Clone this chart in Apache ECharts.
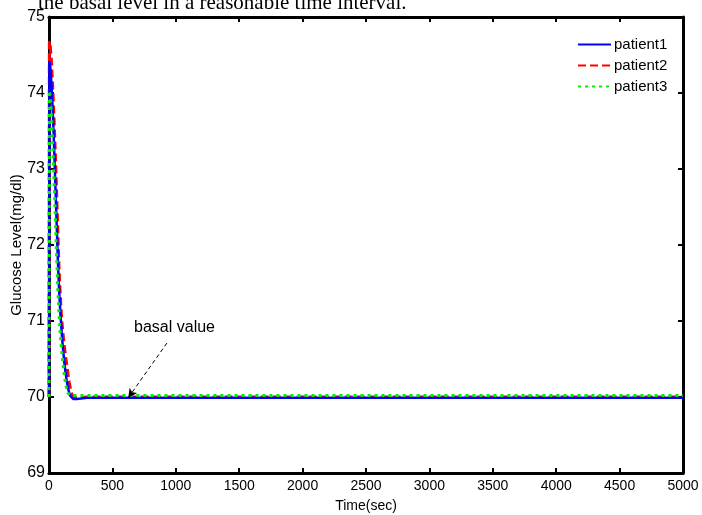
<!DOCTYPE html>
<html>
<head>
<meta charset="utf-8">
<script src="https://cdn.jsdelivr.net/npm/echarts@6/dist/echarts.min.js"></script>
<style>
html,body{margin:0;padding:0;background:#fff;}
#chart{width:702px;height:515px;}
</style>
</head>
<body>
<div id="chart"></div>
<script>
var timeSec = [0, 3, 10, 20, 30, 40, 50, 60, 70, 80, 90, 100, 110, 120, 130, 140, 150, 160, 170, 180, 190, 200, 220, 250, 300, 400, 500, 1000, 2000, 3000, 4000, 5000];
var patient1 = [70, 74.42, 74.35, 74.1, 73.75, 73.3, 72.8, 72.3, 71.8, 71.4, 71.1, 70.85, 70.64, 70.47, 70.33, 70.21, 70.12, 70.05, 70.01, 69.985, 69.975, 69.97, 69.975, 69.98, 69.99, 69.99, 69.99, 69.99, 69.99, 69.99, 69.99, 69.99];
var patient2 = [70, 74.68, 74.62, 74.4, 74.05, 73.65, 73.2, 72.7, 72.15, 71.65, 71.3, 71.02, 70.84, 70.68, 70.55, 70.42, 70.3, 70.19, 70.1, 70.04, 70.01, 69.995, 69.99, 69.99, 70.0, 70.0, 70.0, 70.0, 70.0, 70.0, 70.0, 70.0];
var patient3 = [70, 74.03, 73.95, 73.7, 73.3, 72.85, 72.35, 71.85, 71.4, 71.05, 70.8, 70.6, 70.45, 70.3, 70.18, 70.1, 70.05, 70.03, 70.02, 70.02, 70.02, 70.02, 70.02, 70.02, 70.02, 70.02, 70.02, 70.02, 70.02, 70.02, 70.02, 70.02];
var seriesNames = ['patient1', 'patient2', 'patient3'];
var yTicks = [69, 70, 71, 72, 73, 74, 75];
var xTicks = [0, 500, 1000, 1500, 2000, 2500, 3000, 3500, 4000, 4500, 5000];
var annotationText = 'basal value';
var arrowFrom = [930, 70.71];
var arrowTo = [625, 69.99];
var labelAt = [990, 70.91];

function pairs(t, v) { return t.map(function (x, i) { return [x, v[i]]; }); }

var chart = echarts.init(document.getElementById('chart'), null, {renderer: 'canvas'});
var axisFont = 'Liberation Sans';
var commonAxis = {
  axisLine: {show: true, onZero: false, lineStyle: {color: '#000', width: 3}},
  axisTick: {show: true, inside: true, length: 5, lineStyle: {color: '#000', width: 2}},
  splitLine: {show: false}
};
chart.setOption({
  animation: false,
  backgroundColor: '#fff',
  grid: {left: 49, right: 19, top: 17, bottom: 42, containLabel: false, outerBoundsMode: 'none'},
  graphic: [{
    type: 'text', left: 38, top: -7,
    style: {text: 'the basal level in a reasonable time interval.', font: '21px "Liberation Serif"', fill: '#000'}
  }],
  legend: {
    orient: 'vertical', left: 572, top: 32, itemWidth: 33, itemHeight: 14, itemGap: 6,
    data: seriesNames,
    itemStyle: {opacity: 0},
    textStyle: {fontFamily: axisFont, fontSize: 15, color: '#000', padding: [0, 0, 0, -2]}
  },
  xAxis: [Object.assign({}, commonAxis, {
    type: 'value', min: 0, max: 5000, interval: 500, position: 'bottom',
    name: 'Time(sec)', nameLocation: 'middle', nameGap: 26, nameMoveOverlap: false,
    nameTextStyle: {fontFamily: 'Liberation Sans Narrow, Liberation Sans', fontSize: 14, color: '#000'},
    axisLabel: {fontFamily: 'Liberation Sans Narrow, Liberation Sans', fontSize: 14, color: '#000', margin: 6,
      formatter: function (v) { return xTicks.indexOf(v) >= 0 ? String(v) : ''; }}
  }), Object.assign({}, commonAxis, {
    type: 'value', min: 0, max: 5000, interval: 500, position: 'top', axisLabel: {show: false}
  })],
  yAxis: [Object.assign({}, commonAxis, {
    type: 'value', min: 69, max: 75, interval: 1, position: 'left',
    name: 'Glucose Level(mg/dl)', nameLocation: 'middle', nameGap: 25, nameMoveOverlap: false,
    nameTextStyle: {fontFamily: axisFont, fontSize: 15, color: '#000'},
    axisLabel: {fontFamily: axisFont, fontSize: 16, color: '#000', margin: 4,
      formatter: function (v) { return yTicks.indexOf(v) >= 0 ? String(v) : ''; }}
  }), Object.assign({}, commonAxis, {
    type: 'value', min: 69, max: 75, interval: 1, position: 'right', axisLabel: {show: false}
  })],
  series: [
    {name: seriesNames[0], type: 'line', data: pairs(timeSec, patient1), showSymbol: false, symbol: 'none',
      lineStyle: {color: '#0000ff', width: 2.5}, itemStyle: {color: '#0000ff'}, z: 3},
    {name: seriesNames[1], type: 'line', data: pairs(timeSec, patient2), showSymbol: false, symbol: 'none',
      lineStyle: {color: '#ff0000', width: 3, type: [8, 4]}, itemStyle: {color: '#ff0000'}, z: 2},
    {name: seriesNames[2], type: 'line', data: pairs(timeSec, patient3), showSymbol: false, symbol: 'none',
      lineStyle: {color: '#00ee00', width: 3, type: [3, 4]}, itemStyle: {color: '#00ee00'}, z: 4,
      markLine: {
        silent: true, symbol: ['none', 'arrow'], symbolSize: [7, 9],
        lineStyle: {color: '#000', width: 1, type: [4, 3]},
        label: {show: false},
        data: [[{coord: arrowFrom}, {coord: arrowTo}]]
      },
      markPoint: {
        silent: true, symbol: 'circle', symbolSize: 0,
        label: {show: true, position: 'inside', formatter: annotationText, color: '#000', fontFamily: axisFont, fontSize: 16},
        data: [{coord: labelAt}]
      }
    }
  ]
});
</script>
</body>
</html>
